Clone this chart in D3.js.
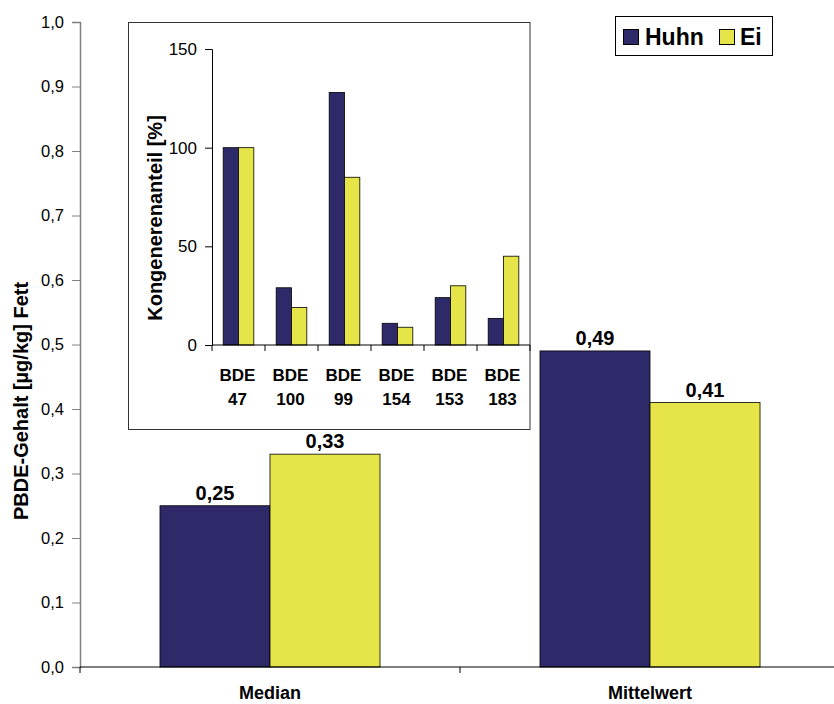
<!DOCTYPE html>
<html><head><meta charset="utf-8">
<script src="https://cdn.jsdelivr.net/npm/d3@7"></script>
<style>body{margin:0;background:#fff}svg{display:block;font-family:"Liberation Sans",Arial,sans-serif}</style>
</head><body>
<script>
const series = ["Huhn", "Ei"];
const colors = ["#2e2a69", "#e5e449"];
const categories = ["Median", "Mittelwert"];
const huhnMain = [0.25, 0.49];
const eiMain = [0.33, 0.41];
const yTicks = [0, 0.1, 0.2, 0.3, 0.4, 0.5, 0.6, 0.7, 0.8, 0.9, 1.0];

const insetCats = [["BDE", "47"], ["BDE", "100"], ["BDE", "99"], ["BDE", "154"], ["BDE", "153"], ["BDE", "183"]];
const huhnInset = [100, 29, 128, 11, 24, 13.5];
const eiInset = [100, 19, 85, 9, 30, 45];
const insetTicks = [0, 50, 100, 150];

const W = 834, H = 704;
const svg = d3.select("body").append("svg").attr("width", W).attr("height", H);
const fmt = d => d3.format(".1f")(d).replace(".", ",");

// Main chart
const x = d3.scaleBand().domain(categories).range([80, 840]).paddingInner(0).paddingOuter(0);
const xs = d3.scaleBand().domain(series).range([0, x.bandwidth()]).paddingInner(0).paddingOuter(0.727);
const y = d3.scaleLinear().domain([0, 1]).range([667, 22]);

const mainData = categories.map((c, i) => ({ c, vals: [huhnMain[i], eiMain[i]] }));
const g = svg.append("g");
const grp = g.selectAll("g.cat").data(mainData).join("g").attr("transform", d => `translate(${x(d.c)},0)`);
grp.selectAll("rect").data(d => d.vals.map((v, j) => ({ v, s: series[j], j }))).join("rect")
  .attr("x", d => xs(d.s)).attr("width", xs.bandwidth())
  .attr("y", d => y(d.v)).attr("height", d => y(0) - y(d.v))
  .attr("fill", d => colors[d.j]).attr("stroke", "#000").attr("stroke-width", 0.8);
grp.selectAll("text.val").data(d => d.vals.map((v, j) => ({ v, s: series[j] }))).join("text")
  .attr("class", "val")
  .attr("x", d => xs(d.s) + xs.bandwidth() / 2).attr("y", d => y(d.v) - 6)
  .attr("text-anchor", "middle").attr("font-weight", "bold").attr("font-size", 20)
  .text(d => d3.format(".2f")(d.v).replace(".", ","));

// y axis
const yAxis = g.append("g").attr("transform", "translate(80,0)")
  .call(d3.axisLeft(y).tickValues(yTicks).tickFormat(fmt).tickSize(8).tickPadding(8));
yAxis.select(".domain").attr("stroke", "#808080").attr("stroke-width", 1.5);
yAxis.selectAll(".tick line").attr("stroke", "#808080");
yAxis.selectAll("text").attr("font-size", 16.5).attr("fill", "#000").attr("font-family", "Liberation Sans, Arial, sans-serif");

// x axis
const xAxisG = g.append("g").attr("transform", `translate(0,${y(0)})`);
xAxisG.append("line").attr("x1", 80).attr("x2", 840).attr("stroke", "#000").attr("stroke-width", 1.2);
xAxisG.selectAll("line.tk").data([x.range()[0], ...categories.slice(1).map(c => x(c)), x.range()[1]]).join("line")
  .attr("class", "tk").attr("x1", d => d).attr("x2", d => d).attr("y1", 0).attr("y2", 6).attr("stroke", "#000");
xAxisG.selectAll("text").data(categories).join("text")
  .attr("x", d => x(d) + x.bandwidth() / 2).attr("y", 32)
  .attr("text-anchor", "middle").attr("font-weight", "bold").attr("font-size", 18)
  .text(d => d);

// y title
svg.append("text").attr("transform", "translate(28,401) rotate(-90)")
  .attr("text-anchor", "middle").attr("font-weight", "bold").attr("font-size", 20)
  .text("PBDE-Gehalt [µg/kg] Fett");

// Inset
const ins = svg.append("g");
ins.append("rect").attr("x", 128.5).attr("y", 22.5).attr("width", 401.5).attr("height", 407)
  .attr("fill", "#fff").attr("stroke", "#333").attr("stroke-width", 1);
const ix = d3.scaleBand().domain(insetCats.map(d => d.join(" "))).range([212, 530]);
const ixs = d3.scaleBand().domain(series).range([0, ix.bandwidth()]).paddingOuter(0.73);
const iy = d3.scaleLinear().domain([0, 150]).range([345, 49]);
const insetData = insetCats.map((c, i) => ({ c: c.join(" "), lab: c, vals: [huhnInset[i], eiInset[i]] }));
const ig = ins.selectAll("g.ic").data(insetData).join("g").attr("transform", d => `translate(${ix(d.c)},0)`);
ig.selectAll("rect").data(d => d.vals.map((v, j) => ({ v, s: series[j], j }))).join("rect")
  .attr("x", d => ixs(d.s)).attr("width", ixs.bandwidth())
  .attr("y", d => iy(d.v)).attr("height", d => iy(0) - iy(d.v))
  .attr("fill", d => colors[d.j]).attr("stroke", "#000").attr("stroke-width", 0.8);
ig.each(function(d) {
  const t = d3.select(this).append("text").attr("text-anchor", "middle")
    .attr("font-weight", "bold").attr("font-size", 17);
  t.append("tspan").attr("x", ix.bandwidth() / 2 - 1).attr("y", 381).text(d.lab[0]);
  t.append("tspan").attr("x", ix.bandwidth() / 2 - 1).attr("y", 405).text(d.lab[1]);
});
const iyAxis = ins.append("g").attr("transform", "translate(212,0)")
  .call(d3.axisLeft(iy).tickValues(insetTicks).tickSize(7).tickPadding(8));
iyAxis.select(".domain").attr("stroke", "#000");
iyAxis.selectAll("text").attr("font-size", 17).attr("fill", "#000").attr("font-family", "Liberation Sans, Arial, sans-serif");
const ixAxis = ins.append("g").attr("transform", `translate(0,${iy(0)})`);
ixAxis.append("line").attr("x1", 212).attr("x2", 530).attr("stroke", "#000");
ixAxis.selectAll("line.tk").data([...insetData.map(d => ix(d.c)), 530]).join("line").attr("class", "tk")
  .attr("x1", d => d).attr("x2", d => d).attr("y1", 0).attr("y2", 6).attr("stroke", "#000");
ins.append("text").attr("transform", "translate(162,218) rotate(-90)")
  .attr("text-anchor", "middle").attr("font-weight", "bold").attr("font-size", 20)
  .text("Kongenerenanteil [%]");

// Legend
const lg = svg.append("g");
lg.append("rect").attr("x", 615.5).attr("y", 16.5).attr("width", 157).attr("height", 39)
  .attr("fill", "#fff").attr("stroke", "#000");
const litems = [{ s: series[0], x: 623, tx: 645 }, { s: series[1], x: 719, tx: 740 }];
litems.forEach((d, j) => {
  lg.append("rect").attr("x", d.x + 0.5).attr("y", 29.5).attr("width", 15).attr("height", 15)
    .attr("fill", colors[j]).attr("stroke", "#000");
  lg.append("text").attr("x", d.tx).attr("y", 45).attr("font-weight", "bold").attr("font-size", 23).text(d.s);
});
</script>
</body></html>
